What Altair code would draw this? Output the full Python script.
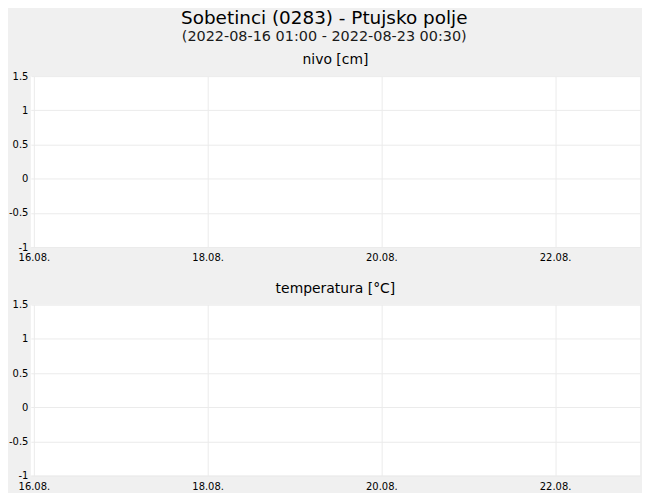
import altair as alt
import pandas as pd

# Data (the reference shows no measured values in the period)
times = ["2022-08-16T01:00:00", "2022-08-23T00:30:00"]
nivo = [None, None]
temperatura = [None, None]
x_tick_days = [16, 18, 20, 22]
y_ticks = [-1, -0.5, 0, 0.5, 1, 1.5]

df = pd.DataFrame({"time": pd.to_datetime(times), "nivo": nivo, "temperatura": temperatura})

FONT = "DejaVu Sans"

x_domain = [
    alt.DateTime(year=2022, month=8, date=15, hours=23, minutes=10),
    alt.DateTime(year=2022, month=8, date=22, hours=23, minutes=28),
]

x_axis = alt.Axis(
    title=None,
    values=[alt.DateTime(year=2022, month=8, date=d) for d in x_tick_days],
    format="%d.%m.",
    domain=False,
    ticks=False,
    labelFlush=False,
    labelPadding=6,
    labelFontSize=10,
    labelColor="#000000",
    labelFont=FONT,
    grid=True,
    gridColor="#ebebeb",
)

y_axis = alt.Axis(
    title=None,
    values=y_ticks,
    labelExpr="toString(datum.value)",
    domain=False,
    ticks=False,
    labelFlush=False,
    labelPadding=3,
    labelFontSize=10,
    labelColor="#000000",
    labelFont=FONT,
    grid=True,
    gridColor="#ebebeb",
)


def panel(field, title):
    return (
        alt.Chart(df, title=alt.TitleParams(title, fontSize=14, font=FONT, fontWeight="normal",
                                            color="#000000", offset=4))
        .mark_line(color="#1f77b4")
        .encode(
            x=alt.X("time:T", scale=alt.Scale(domain=x_domain), axis=x_axis),
            y=alt.Y(f"{field}:Q", scale=alt.Scale(domain=[-1, 1.5], nice=False, zero=False), axis=y_axis),
        )
        .properties(width=613, height=172)
    )


chart = (
    alt.vconcat(panel("nivo", "nivo [cm]"), panel("temperatura", "temperatura [°C]"), spacing=19)
    .properties(
        title=alt.TitleParams(
            "Sobetinci (0283) - Ptujsko polje",
            subtitle="(2022-08-16 01:00 - 2022-08-23 00:30)",
            fontSize=18.5,
            subtitleFontSize=14.5,
            subtitlePadding=2,
            font=FONT,
            subtitleFont=FONT,
            fontWeight="normal",
            color="#000000",
            subtitleColor="#1a1a1a",
            anchor="middle",
            offset=10,
        ),
        padding={"left": 0, "top": 0, "right": 2, "bottom": 0},
        background="#f0f0f0",
    )
    .configure_view(fill="white", stroke=None)
)

chart.save("out.html", embed_options={"renderer": "svg", "actions": False})
